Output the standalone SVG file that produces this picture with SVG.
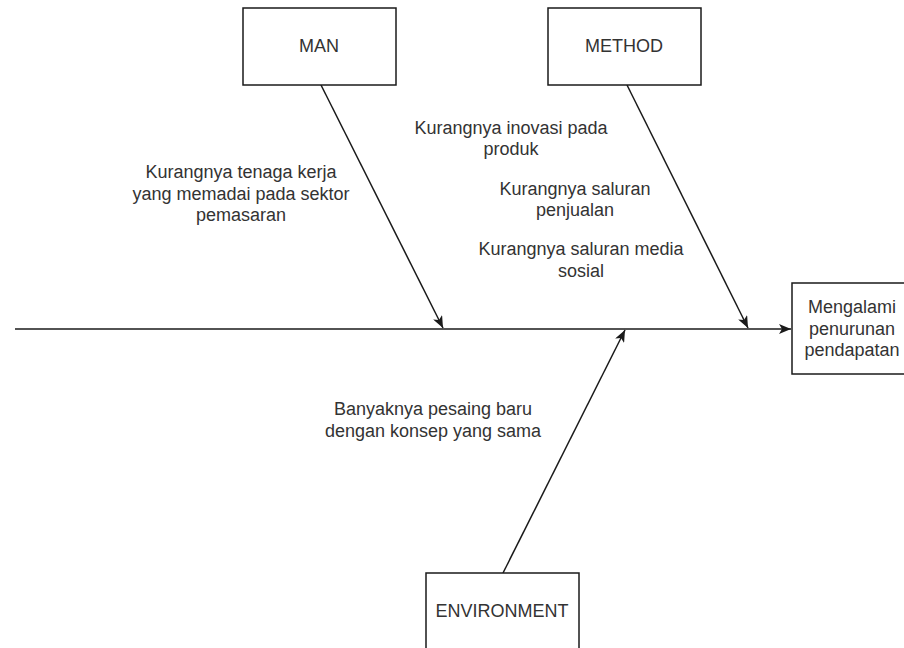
<svg xmlns="http://www.w3.org/2000/svg" width="904" height="648" viewBox="0 0 904 648">
<style>
.box{fill:#fff;stroke:#1a1a1a;stroke-width:1.5}
.t{font-family:"Liberation Sans",Arial,sans-serif;font-size:18px;fill:#333;text-anchor:middle}
.c{stroke:#1a1a1a;stroke-width:1.5;fill:none;marker-end:url(#arr)}
</style>
<defs>
<marker id="arr" viewBox="0 0 12 10" refX="12" refY="5" markerWidth="12" markerHeight="10" markerUnits="userSpaceOnUse" orient="auto">
<path d="M0,0 L12,5 L0,10 L3,5 Z" fill="#1a1a1a"/>
</marker>
</defs>
<rect width="904" height="648" fill="#fff"/>
<g id="connectors">
<line class="c" x1="15" y1="329" x2="791" y2="329"/>
<line class="c" x1="321" y1="85" x2="443" y2="328"/>
<line class="c" x1="627" y1="85" x2="748" y2="328"/>
<line class="c" x1="503" y1="573" x2="625" y2="330"/>
</g>
<g id="man">
<rect class="box" x="243" y="8" width="153" height="77"/>
<text class="t" x="319" y="52">MAN</text>
</g>
<g id="method">
<rect class="box" x="548" y="8" width="153" height="77"/>
<text class="t" x="624" y="52">METHOD</text>
</g>
<g id="environment">
<rect class="box" x="426" y="573" width="153" height="80"/>
<text class="t" x="502" y="617">ENVIRONMENT</text>
</g>
<g id="result">
<rect class="box" x="792" y="283" width="120" height="91"/>
<text class="t" x="852" y="313">Mengalami</text>
<text class="t" x="852" y="334.6">penurunan</text>
<text class="t" x="852" y="356.2">pendapatan</text>
</g>
<g id="label-man">
<text class="t" x="241" y="178">Kurangnya tenaga kerja</text>
<text class="t" x="241" y="199.6">yang memadai pada sektor</text>
<text class="t" x="241" y="221.2">pemasaran</text>
</g>
<g id="label-method-1">
<text class="t" x="511" y="133.5">Kurangnya inovasi pada</text>
<text class="t" x="511" y="155.1">produk</text>
</g>
<g id="label-method-2">
<text class="t" x="575" y="194.5">Kurangnya saluran</text>
<text class="t" x="575" y="216.1">penjualan</text>
</g>
<g id="label-method-3">
<text class="t" x="581" y="255">Kurangnya saluran media</text>
<text class="t" x="581" y="276.6">sosial</text>
</g>
<g id="label-env">
<text class="t" x="433" y="415">Banyaknya pesaing baru</text>
<text class="t" x="433" y="436.6">dengan konsep yang sama</text>
</g>
</svg>
